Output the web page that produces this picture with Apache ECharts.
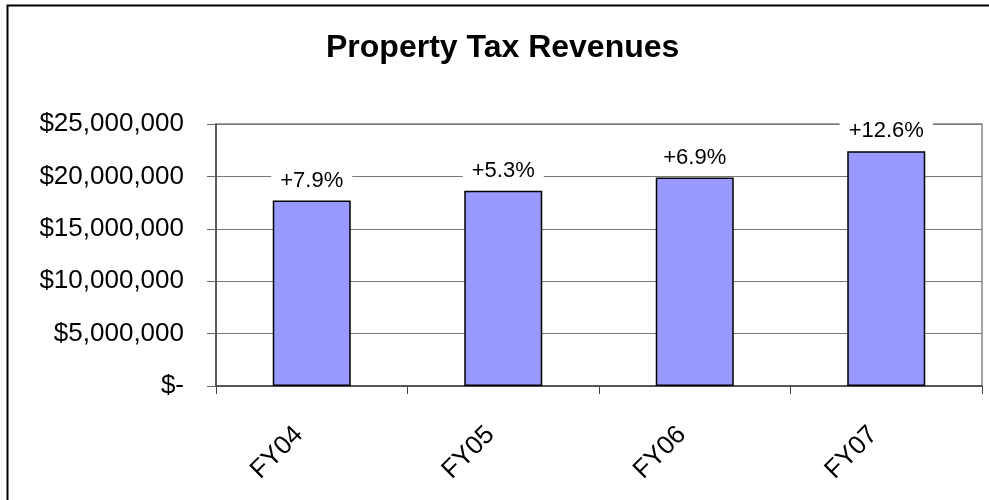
<!DOCTYPE html>
<html>

<head>
  <meta charset="utf-8">
  <title>Property Tax Revenues</title>
  <script src="https://cdn.jsdelivr.net/npm/echarts@6/dist/echarts.min.js"></script>
</head>
<style>
  * {
    padding: 0;
    margin: 0;
  }

  #main {
    width: 989px;
    height: 500px;
    overflow: hidden;
    position: absolute;
    background: #fff;
  }
</style>

<body>
  <div id="main"></div>
  <script type="text/javascript">
    // data
    var years = ['FY04', 'FY05', 'FY06', 'FY07'];
    var revenues = [17700000, 18630000, 19900000, 22400000];
    var growth = ['+7.9%', '+5.3%', '+6.9%', '+12.6%'];

    var font = '"Liberation Sans", Arial, sans-serif';

    function money(v) {
      if (v === 0) return '$-';
      return '$' + v.toString().replace(/\B(?=(\d{3})+(?!\d))/g, ',');
    }

    var option = {
      animation: false,
      backgroundColor: '#fff',
      title: {
        text: 'Property Tax Revenues',
        left: 326,
        top: 32,
        padding: 0,
        textStyle: { fontFamily: font, fontSize: 32, fontWeight: 'bold', color: '#000' }
      },
      graphic: [{
        type: 'rect',
        shape: { x: 7.5, y: 5.5, width: 1100, height: 700 },
        style: { fill: 'none', stroke: '#000', lineWidth: 2 },
        silent: true
      }],
      grid: {
        left: 216, right: 7, top: 124, bottom: 114,
        show: true, borderColor: '#888', borderWidth: 1.5
      },
      xAxis: {
        type: 'category',
        data: years,
        axisLine: { lineStyle: { color: '#444', width: 1.5 } },
        axisTick: { show: true, length: 8, lineStyle: { color: '#444' } },
        axisLabel: {
          rotate: 45, margin: 32, color: '#000',
          padding: [0, 18, 0, 0],
          fontFamily: font, fontSize: 26
        }
      },
      yAxis: {
        type: 'value',
        min: 0,
        max: 25000000,
        interval: 5000000,
        axisLine: { show: true, lineStyle: { color: '#444', width: 1.5 } },
        axisTick: { show: true, length: 9, lineStyle: { color: '#666' } },
        splitLine: { lineStyle: { color: '#777', width: 1 } },
        axisLabel: {
          margin: 32, color: '#000',
          fontFamily: font, fontSize: 26,
          formatter: money
        }
      },
      series: [{
        type: 'bar',
        data: revenues,
        barWidth: 78,
        itemStyle: { color: '#9999ff', borderColor: '#000', borderWidth: 1.5 },
        label: {
          show: true,
          position: 'top',
          distance: 7,
          backgroundColor: '#fff',
          padding: [2, 9],
          color: '#000',
          fontFamily: font,
          fontSize: 22,
          formatter: function (p) { return growth[p.dataIndex]; }
        }
      }]
    };

    var myChart = echarts.init(document.getElementById('main'));
    myChart.setOption(option);
  </script>
</body>

</html>
